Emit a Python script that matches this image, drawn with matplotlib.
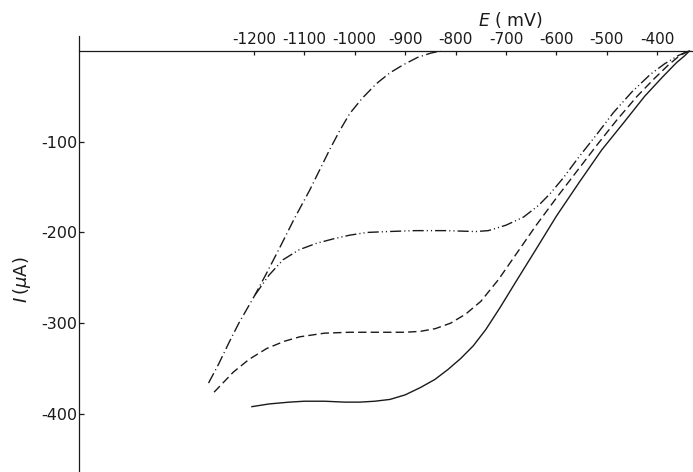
import matplotlib
matplotlib.use("Agg")
import matplotlib.pyplot as plt

plt.rcParams['font.family'] = ['DejaVu Sans']
plt.rcParams['axes.unicode_minus'] = False

# values: E in mV, I in microampere
e_solid = [-1204, -1170, -1130, -1100, -1060, -1020, -990, -960, -930, -900, -870,
           -841, -815, -790, -765, -740, -712, -680, -642, -600, -555, -510, -465,
           -425, -390, -362, -345, -336]
i_solid = [-392, -389, -387, -386, -386, -387, -387, -386, -384, -379, -371,
           -362, -351, -339, -325, -307, -283, -254, -220, -182, -145, -109, -78,
           -50, -29, -13, -5, 0]

e_dashed = [-1279, -1260, -1241, -1210, -1175, -1140, -1109, -1060, -1010, -950, -900,
            -870, -840, -810, -780, -750, -715, -680, -640, -600, -560, -520, -480,
            -440, -405, -377, -355, -337]
i_dashed = [-376, -365, -354, -340, -328, -320, -315, -311, -310, -310, -310,
            -309, -306, -300, -290, -276, -252, -224, -192, -162, -133, -104, -76,
            -50, -30, -15, -5, 0]

e_dddot = [-1198, -1170, -1142, -1110, -1076, -1042, -1010, -976, -934, -880, -820,
           -760, -735, -700, -665, -635, -612, -585, -557, -520, -487, -450, -414,
           -385, -358, -338]
i_dddot = [-269, -247, -230, -219, -212, -207, -203, -200, -199, -198, -198,
           -199, -198, -192, -183, -170, -157, -139, -118, -92, -68, -45, -26,
           -14, -5, 0]

e_dashdot = [-1290, -1270, -1250, -1230, -1198, -1175, -1149, -1120, -1089, -1050,
             -1030, -1010, -985, -957, -930, -903, -875, -850, -830]
i_dashdot = [-366, -345, -322, -300, -269, -245, -217, -185, -153, -109,
             -88, -69, -52, -36, -24, -15, -7, -2.5, 0]

x_ticks = [-1200, -1100, -1000, -900, -800, -700, -600, -500, -400]
y_ticks = [-100, -200, -300, -400]

fig = plt.figure(figsize=(6.93, 4.72), dpi=100)
ax = fig.add_axes([79 / 693, 0, 1 - 79 / 693, (472 - 36) / 472])

col = '#1a1a1a'
ax.plot(e_solid, i_solid, color=col, lw=1.0, linestyle='-')
ax.plot(e_dashed, i_dashed, color=col, lw=1.0, linestyle=(0, (6.0, 3.0)))
ax.plot(e_dddot, i_dddot, color=col, lw=1.0,
        linestyle=(0, (8.0, 2.2, 0.8, 2.2, 0.8, 2.2)))
ax.plot(e_dashdot, i_dashdot, color=col, lw=1.0,
        linestyle=(0, (8.0, 2.5, 0.8, 2.5)))

ax.set_xlim(-1547, -329)
ax.set_ylim(-464, 16.5)

for s in ['right', 'bottom']:
    ax.spines[s].set_visible(False)
ax.spines['top'].set_position(('data', 0))
ax.spines['top'].set_linewidth(0.9)
ax.spines['left'].set_linewidth(0.9)
ax.spines['top'].set_color(col)
ax.spines['left'].set_color(col)

ax.xaxis.tick_top()
ax.set_xticks(x_ticks)
ax.set_yticks(y_ticks)
ax.tick_params(axis='x', direction='in', length=3, width=0.9, pad=3,
               labelsize=11, colors=col)
ax.tick_params(axis='y', direction='in', length=3.5, width=0.9, pad=1,
               labelsize=11.5, colors=col)

fig.text(510 / 693, 1 - 20 / 472, r'$E$ ( mV)', ha='center', va='center',
         fontsize=12.5, color=col)
fig.text(22 / 693, 1 - 280 / 472, r'$I\,(\mu$A)', ha='center', va='center',
         rotation=90, fontsize=13, color=col)

fig.savefig('out.png', dpi=100)
